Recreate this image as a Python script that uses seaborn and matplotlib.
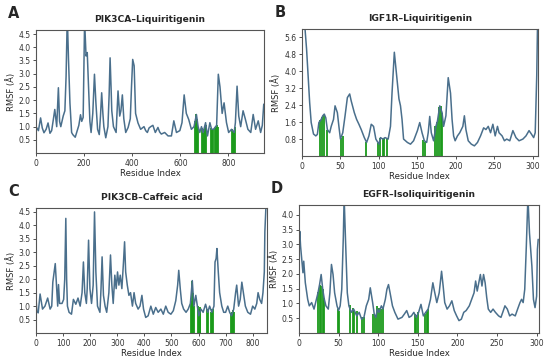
import numpy as np
import pandas as pd
import seaborn as sns
import matplotlib
matplotlib.use("Agg")
import matplotlib.pyplot as plt

# ---- panel A: PIK3CA-Liquiritigenin ----
a_res = [0, 10, 19, 26, 33, 42, 50, 58, 65, 72, 78, 86, 93, 98, 103, 113, 120, 125, 130, 135,
         141, 148, 153, 158, 163, 169, 178, 185, 190, 196, 202, 208, 213, 218, 224, 229, 236, 243, 249, 256,
         263, 268, 273, 278, 282, 290, 299, 304, 308, 312, 315, 322, 333, 341, 348, 353, 359, 365, 373, 383,
         392, 397, 402, 408, 414, 424, 435, 449, 456, 463, 470, 477, 486, 496, 507, 514, 521, 535, 549, 563,
         573, 584, 598, 607, 616, 625, 635, 646, 657, 667, 674, 681, 688, 695, 705, 713, 723, 730, 738, 751,
         758, 765, 774, 782, 792, 801, 813, 824, 829, 836, 843, 851, 861, 870, 881, 893, 903, 913, 924, 934,
         941, 947]
a_rmsf = [1.0, 0.85, 1.33, 0.95, 0.77, 0.9, 1.14, 0.75, 0.85, 1.27, 1.65, 1.0, 2.47, 1.2, 1.0, 1.4, 1.6, 2.9, 5.2, 3.55,
          1.9, 0.78, 0.7, 0.65, 0.6, 0.78, 1.05, 1.45, 1.2, 1.35, 5.0, 3.67, 3.8, 2.6, 1.2, 0.78, 1.5, 2.98, 1.9, 0.9,
          0.7, 1.4, 2.28, 1.5, 1.0, 0.58, 1.0, 2.2, 3.6, 2.5, 1.6, 1.0, 0.78, 2.35, 1.4, 1.6, 2.2, 1.3, 0.78, 0.97,
          1.3, 2.5, 3.54, 3.3, 1.5, 1.14, 0.9, 1.0, 0.85, 0.78, 0.95, 1.0, 1.05, 0.78, 0.97, 0.8, 0.72, 0.78, 0.65, 0.65,
          1.22, 0.78, 0.85, 1.15, 2.2, 1.5, 1.27, 0.9, 1.0, 1.46, 1.0, 0.78, 1.0, 0.78, 1.15, 0.65, 1.15, 0.9, 0.9, 1.05,
          2.98, 2.5, 1.5, 1.9, 1.15, 0.78, 0.9, 0.78, 1.15, 2.53, 1.4, 1.0, 1.6, 1.3, 0.9, 0.78, 1.46, 0.9, 1.22, 0.78,
          1.05, 1.85]
a_site = [662, 665, 668, 671, 674, 690, 694, 698, 702, 706, 729, 733, 737, 743, 747, 751, 755, 815, 819, 823, 827]
a_site_h = [1.2, 1.46, 1.3, 1.1, 1.0, 0.95, 0.8, 0.9, 1.0, 1.05, 0.95, 0.9, 0.9, 0.95, 1.0, 1.05, 1.0, 0.9, 0.85, 0.8, 1.0]

# ---- panel B: IGF1R-Liquiritigenin ----
b_res = [0, 4, 6, 8, 10, 12, 15, 18, 20, 22, 25, 27, 29, 31, 33, 36, 38, 41, 43, 46,
         48, 50, 53, 56, 59, 62, 64, 68, 71, 74, 77, 81, 84, 87, 90, 93, 96, 100, 102, 105,
         108, 112, 115, 117, 120, 123, 126, 128, 130, 132, 137, 141, 145, 150, 153, 156, 159, 162, 164, 166,
         168, 171, 174, 176, 179, 182, 184, 187, 190, 193, 195, 197, 199, 202, 205, 209, 211, 213, 216, 220,
         224, 228, 232, 236, 239, 242, 245, 248, 251, 254, 256, 260, 263, 266, 270, 274, 278, 282, 287, 291,
         295, 298, 301, 303, 305, 306]
b_rmsf = [6.6, 6.0, 5.05, 3.8, 2.53, 1.58, 1.04, 0.95, 1.02, 1.58, 1.73, 1.9, 1.98, 1.8, 1.25, 1.1, 1.4, 1.73, 2.37, 2.05,
          1.4, 0.8, 1.1, 1.9, 2.76, 2.93, 2.6, 2.05, 1.73, 1.5, 1.25, 0.87, 0.64, 0.95, 1.5, 1.4, 0.8, 0.56, 0.87, 0.8,
          0.87, 0.8, 1.4, 2.97, 4.9, 3.8, 2.7, 2.37, 1.73, 0.8, 0.64, 0.56, 0.72, 1.2, 1.58, 1.1, 0.72, 0.64, 1.1, 1.87,
          1.1, 0.72, 1.4, 1.65, 2.37, 2.05, 1.4, 1.9, 3.7, 2.97, 1.73, 0.95, 0.72, 0.95, 1.1, 1.4, 1.9, 1.25, 0.72, 0.56,
          0.48, 0.64, 0.95, 1.33, 1.25, 1.4, 1.1, 1.5, 0.95, 1.4, 1.1, 0.95, 0.72, 0.8, 0.72, 1.2, 0.87, 0.72, 0.8, 0.95,
          1.2, 1.04, 0.87, 1.1, 3.8, 6.2]
b_site = [24, 26, 28, 33, 51, 53, 83, 99, 102, 105, 107, 110, 157, 160, 173, 175, 178, 180, 182]
b_site_h = [1.7, 1.85, 1.95, 1.25, 0.85, 0.95, 0.64, 0.6, 0.87, 0.85, 0.85, 0.8, 0.75, 0.65, 1.4, 1.6, 2.3, 2.37, 2.05]

# ---- panel C: PIK3CB-Caffeic acid ----
c_res = [0, 3, 8, 15, 24, 33, 43, 52, 58, 62, 67, 71, 76, 80, 83, 87, 96, 102, 106, 110,
         113, 116, 122, 131, 138, 147, 155, 163, 170, 175, 180, 186, 189, 194, 199, 205, 211, 216, 221, 227,
         236, 240, 244, 249, 255, 261, 269, 275, 280, 285, 291, 296, 301, 306, 311, 317, 323, 327, 331, 337,
         343, 349, 356, 362, 368, 377, 384, 391, 397, 405, 414, 424, 433, 442, 451, 461, 470, 479, 488, 498,
         507, 516, 523, 527, 533, 538, 545, 554, 562, 570, 577, 583, 590, 596, 601, 609, 617, 626, 634, 641,
         649, 657, 661, 665, 668, 673, 678, 686, 693, 700, 708, 715, 722, 730, 737, 741, 748, 754, 760, 767,
         773, 782, 792, 800, 808, 815, 820, 826, 833, 838, 843, 845, 849, 852]
c_rmsf = [1.3, 0.8, 0.75, 1.45, 0.89, 1.0, 1.3, 0.89, 1.0, 1.89, 2.27, 2.58, 1.7, 1.0, 1.8, 1.1, 1.1, 1.25, 2.0, 4.26,
          2.0, 1.0, 0.77, 0.7, 1.25, 1.07, 1.3, 1.0, 1.5, 2.64, 1.5, 1.1, 1.65, 3.45, 1.65, 1.1, 1.78, 4.5, 2.27, 1.0,
          0.77, 1.65, 2.83, 1.4, 1.0, 0.77, 1.5, 2.9, 1.78, 1.1, 2.15, 1.65, 2.27, 1.78, 2.15, 1.65, 2.64, 3.39, 2.27, 1.78,
          1.4, 1.5, 1.0, 1.5, 1.1, 0.89, 1.0, 1.4, 0.89, 0.58, 0.64, 1.0, 0.7, 0.95, 0.77, 0.89, 0.7, 1.0, 0.77, 0.7,
          0.83, 1.2, 1.78, 2.33, 1.6, 1.1, 0.89, 0.77, 0.89, 1.1, 1.95, 1.0, 1.4, 1.0, 0.64, 0.89, 0.77, 1.07, 0.77, 1.0,
          0.77, 1.0, 2.64, 2.77, 3.14, 2.27, 1.5, 1.0, 0.77, 0.77, 1.0, 0.77, 0.64, 0.89, 1.5, 1.78, 1.0, 1.25, 1.89, 1.4,
          1.0, 0.77, 0.7, 1.0, 0.89, 1.1, 1.5, 1.25, 1.1, 1.5, 2.27, 3.76, 4.7, 5.0]
c_site = [572, 575, 577, 580, 583, 598, 601, 604, 607, 632, 635, 645, 648, 651, 654, 720, 724, 728, 732]
c_site_h = [1.15, 1.2, 1.95, 1.5, 1.0, 1.0, 0.9, 0.95, 0.85, 0.9, 0.85, 0.8, 0.9, 0.85, 0.9, 0.75, 0.8, 0.85, 0.8]

# ---- panel D: EGFR-Isoliquiritigenin ----
d_res = [0, 1, 2, 5, 6, 8, 11, 13, 16, 19, 22, 24, 26, 28, 30, 32, 34, 37, 39, 41,
         43, 45, 48, 50, 52, 54, 56, 57, 59, 61, 63, 66, 69, 73, 76, 79, 82, 85, 88, 90,
         93, 95, 97, 99, 101, 104, 106, 109, 111, 113, 115, 118, 121, 125, 130, 133, 136, 139, 142, 145,
         148, 151, 154, 157, 160, 163, 166, 169, 171, 174, 177, 180, 182, 184, 187, 190, 193, 196, 199, 202,
         205, 208, 211, 215, 218, 221, 223, 225, 227, 229, 231, 233, 235, 237, 239, 242, 245, 248, 252, 255,
         258, 260, 263, 266, 269, 273, 276, 279, 281, 283, 285, 287, 289, 291, 294, 296, 298, 300, 301, 302]
d_rmsf = [3.0, 3.44, 2.94, 2.04, 2.43, 1.7, 1.14, 0.92, 1.03, 0.81, 1.14, 1.36, 1.64, 1.98, 1.48, 1.14, 0.92, 0.81, 1.36, 2.32,
          1.98, 1.36, 0.92, 0.76, 0.92, 1.48, 3.27, 4.6, 2.94, 1.36, 0.92, 0.7, 0.81, 0.58, 0.7, 0.47, 0.53, 0.92, 1.14, 1.53,
          1.03, 0.64, 0.53, 0.81, 0.7, 0.92, 0.81, 1.14, 1.48, 1.64, 1.36, 0.92, 0.7, 0.47, 0.53, 0.64, 0.76, 0.53, 0.58, 0.7,
          0.53, 0.7, 0.97, 0.58, 0.7, 0.81, 1.14, 1.7, 1.42, 1.03, 1.36, 2.09, 1.59, 1.03, 0.81, 0.92, 1.09, 0.76, 0.58, 0.42,
          0.47, 0.7, 0.76, 0.92, 1.14, 1.36, 1.76, 1.42, 1.7, 1.98, 1.59, 1.98, 1.7, 1.2, 0.81, 0.7, 0.81, 0.7, 0.58, 0.53,
          0.76, 0.92, 0.81, 0.58, 0.64, 0.58, 0.81, 1.03, 1.14, 1.03, 1.48, 2.94, 4.6, 3.38, 2.27, 1.14, 0.86, 1.25, 2.83, 3.17]
d_site = [24, 26, 28, 30, 32, 49, 51, 65, 68, 70, 73, 80, 82, 94, 96, 99, 101, 103, 106, 146, 148, 150, 159, 161, 163]
d_site_h = [1.4, 1.64, 1.6, 1.48, 1.2, 0.8, 0.76, 0.95, 0.85, 0.75, 0.75, 0.55, 0.55, 0.65, 0.6, 0.9, 0.85, 0.8, 0.85,
            0.65, 0.6, 0.7, 0.65, 0.7, 0.8]

sns.set_theme(style="ticks")
plt.rcParams['font.family'] = ['DejaVu Sans']

line_color = "#4a6f8c"
site_color = "#1a9a1a"

fig = plt.figure(figsize=(5.5, 3.62), dpi=100)

panels = [
    ("A", "PIK3CA\u2013Liquiritigenin", a_res, a_rmsf, a_site, a_site_h,
     [0.0655, 0.577, 0.4145, 0.340], (0, 948), (0, 4.65), np.arange(0, 801, 200), np.arange(0.5, 4.51, 0.5)),
    ("B", "IGF1R\u2013Liquiritigenin", b_res, b_rmsf, b_site, b_site_h,
     [0.549, 0.569, 0.429, 0.351], (0, 306.5), (0, 6.0), np.arange(0, 301, 50), np.arange(0.8, 5.61, 0.8)),
    ("C", "PIK3CB\u2013Caffeic acid", c_res, c_rmsf, c_site, c_site_h,
     [0.0655, 0.080, 0.420, 0.345], (0, 853), (0, 4.64), np.arange(0, 801, 100), np.arange(0.5, 4.51, 0.5)),
    ("D", "EGFR\u2013Isoliquiritigenin", d_res, d_rmsf, d_site, d_site_h,
     [0.5436, 0.080, 0.4364, 0.3536], (0, 303), (0, 4.33), np.arange(0, 301, 50), np.arange(0.5, 4.01, 0.5)),
]

for letter, title, res, rmsf, site, site_h, rect, xlim, ylim, xt, yt in panels:
    ax = fig.add_axes(rect)
    df = pd.DataFrame({"Residue": res, "RMSF": rmsf})
    ax.vlines(site, 0, site_h, color=site_color, lw=1.3, zorder=1)
    sns.lineplot(data=df, x="Residue", y="RMSF", ax=ax, color=line_color, lw=1.1,
                 estimator=None, sort=False, zorder=2)
    ax.set_xlim(*xlim)
    ax.set_ylim(*ylim)
    ax.set_xticks(xt)
    ax.set_yticks(yt)
    ax.set_yticklabels(["%.1f" % v for v in yt])
    ax.tick_params(labelsize=5.5, length=2.5, width=0.6, pad=1.5, colors="#333333")
    for s in ax.spines.values():
        s.set_linewidth(0.8)
        s.set_color("#555555")
    ax.set_xlabel("Residue Index", fontsize=6.2, labelpad=1)
    ax.set_ylabel("RMSF (\u00c5)", fontsize=6, labelpad=2)
    ax.set_title(title, fontsize=6.6, fontweight="bold", pad=6)
    bbox = ax.get_position()
    fig.text(bbox.x0 - 0.04, bbox.y1 + 0.045, letter, fontsize=10.5, fontweight="bold", ha="center", va="center")

fig.savefig("out.png", dpi=100)
